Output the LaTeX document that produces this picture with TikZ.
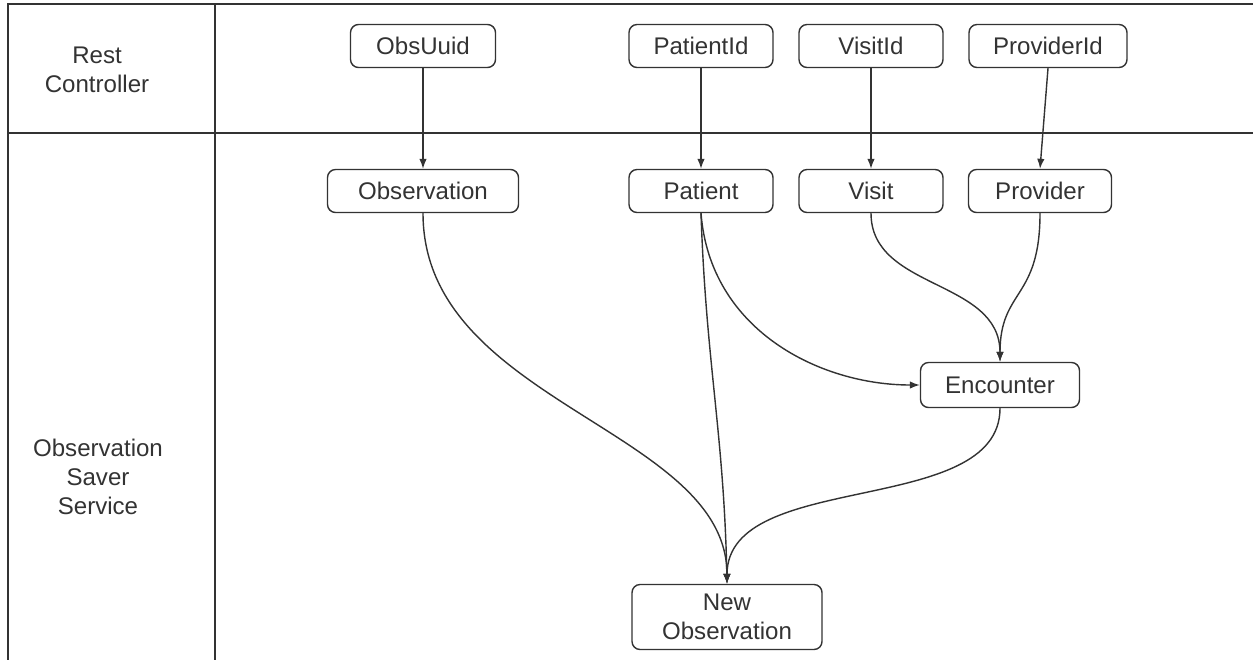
\documentclass[tikz,border=0pt]{standalone}
\usepackage{fontspec}
\setmainfont{Liberation Sans}
\usepackage{tikz}
\usetikzlibrary{arrows.meta}

\definecolor{ink}{HTML}{333333}

\begin{document}
\begin{tikzpicture}[x=0.02cm, y=-0.02cm, line width=0.8pt, draw=ink,
        font=\fontsize{13.7}{16.5}\selectfont, text=ink,
        box/.style={rectangle, rounded corners=0.16cm, draw=ink, minimum height=0.86cm},
        flow/.style={-{Latex[length=0.2cm,width=0.15cm]}, ink}]
        \useasboundingbox (0,0) rectangle (1253,660);

        % lanes
        \draw[line width=1.1pt] (1253,4) -- (8,4) -- (8,660);
        \draw[line width=1.1pt] (215,4) -- (215,660);
        \draw[line width=1.1pt] (8,133) -- (1253,133);
        \node[align=center] (rest) at (97,70) {Rest\\Controller};
        \node[align=center] (saver) at (98,477) {Observation\\Saver\\Service};

        % ids from the rest controller
        \node[box, minimum width=2.9cm] (obsuuid) at (423,46) {ObsUuid};
        \node[box, minimum width=2.88cm] (patientid) at (701,46) {PatientId};
        \node[box, minimum width=2.88cm] (visitid) at (871,46) {VisitId};
        \node[box, minimum width=3.16cm] (providerid) at (1048,46) {ProviderId};

        % loaded entities
        \node[box, minimum width=3.82cm] (obs) at (423,191) {Observation};
        \node[box, minimum width=2.88cm] (patient) at (701,191) {Patient};
        \node[box, minimum width=2.88cm] (visit) at (871,191) {Visit};
        \node[box, minimum width=2.86cm] (provider) at (1040,191) {Provider};
        \node[box, minimum width=3.18cm, minimum height=0.9cm] (enc) at (1000,385) {Encounter};
        \node[box, minimum width=3.8cm, minimum height=1.3cm, align=center] (newobs) at (727,617) {New\\Observation};

        \draw[flow] (obsuuid) -- (obs);
        \draw[flow] (patientid) -- (patient);
        \draw[flow] (visitid) -- (visit);
        \draw[flow] (providerid.south) -- (provider.north);

        \draw[flow] (obs.south) .. controls +(0,190) and +(0,-155) .. (newobs.north);
        \draw[flow] (patient.south) .. controls +(5,150) and +(-3,-150) .. (newobs.north);
        \draw[flow] (patient.south) .. controls +(9,117) and +(-100,0) .. (enc.west);
        \draw[flow] (visit.south) .. controls +(0,77) and +(0,-83) .. (enc.north);
        \draw[flow] (provider.south) .. controls +(0,87) and +(0,-73) .. (enc.north);
        \draw[flow] (enc.south) .. controls +(0,110) and +(0,-115) .. (newobs.north);
\end{tikzpicture}
\end{document}
